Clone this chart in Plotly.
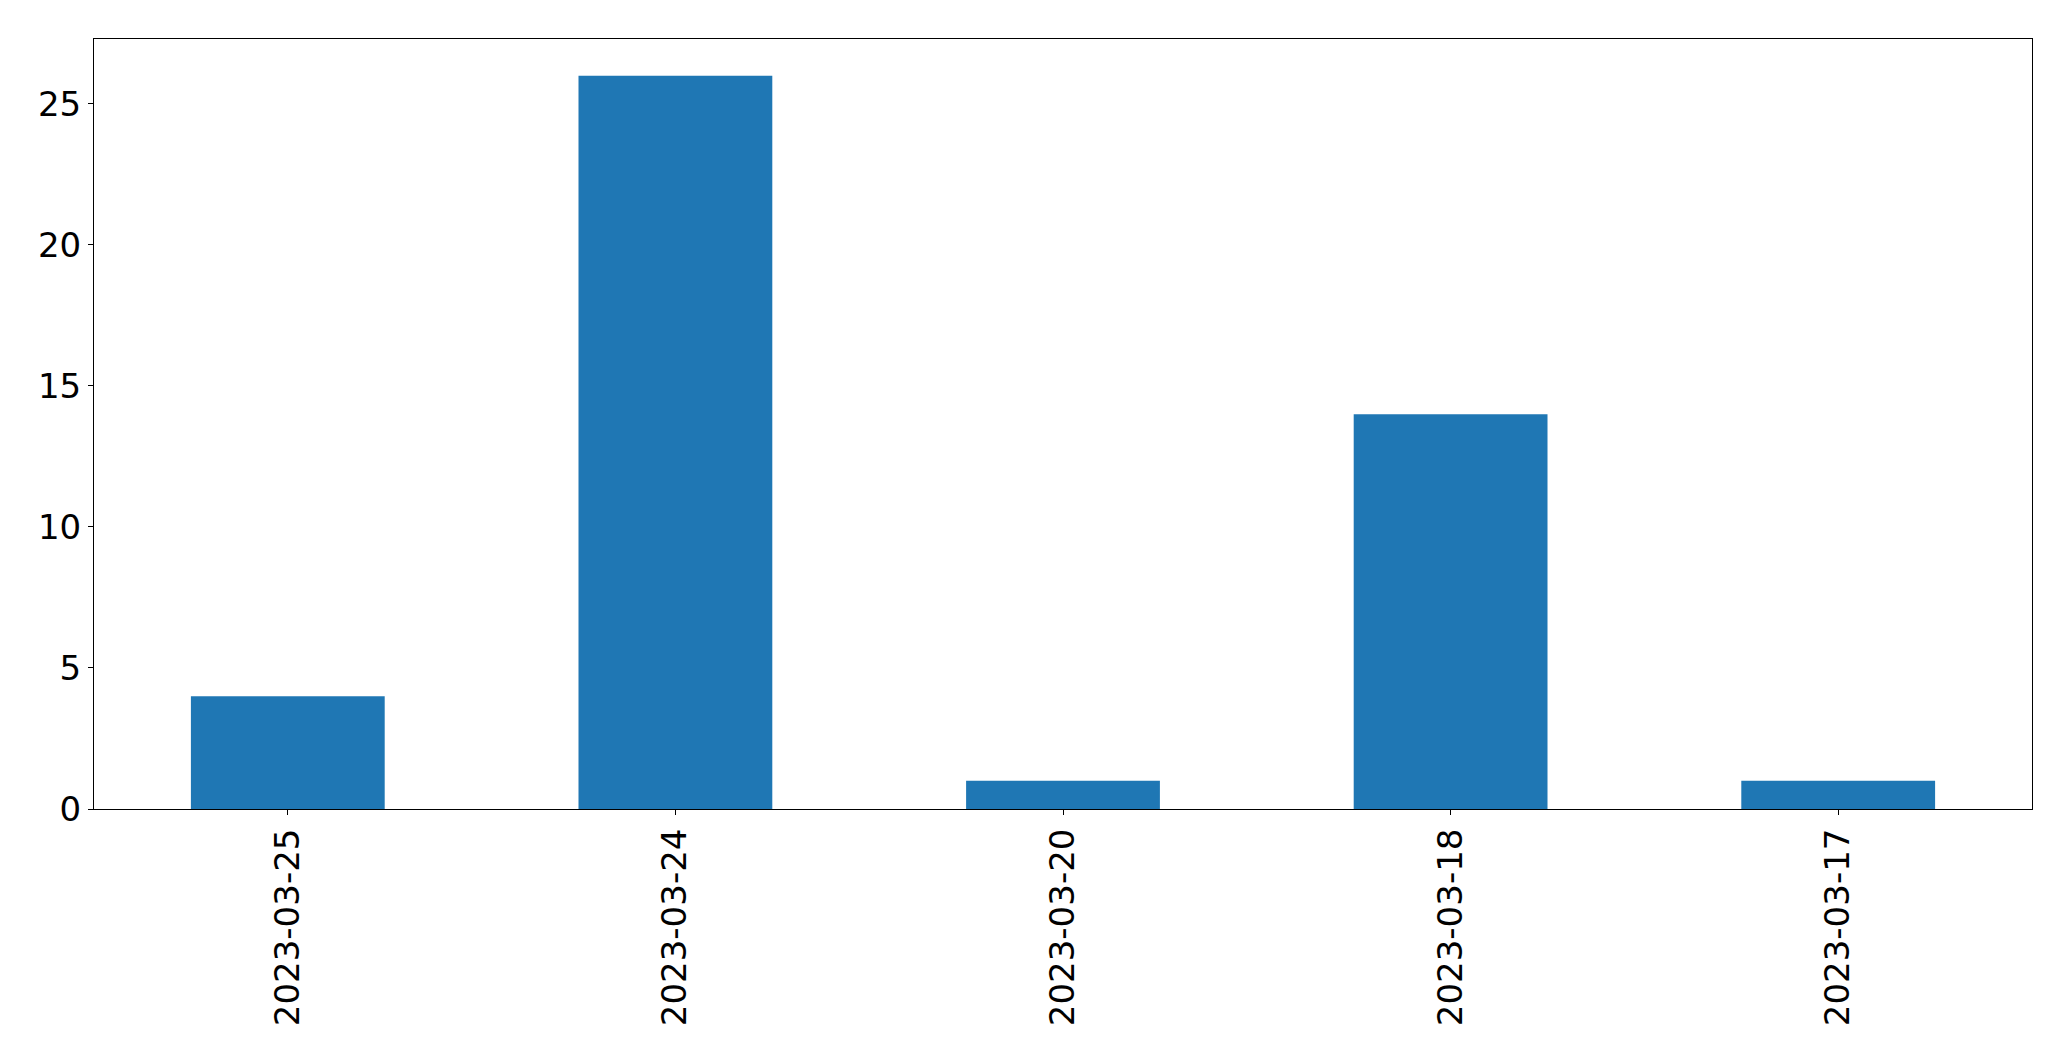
import plotly.graph_objects as go

categories = ["2023-03-25", "2023-03-24", "2023-03-20", "2023-03-18", "2023-03-17"]
values = [4, 26, 1, 14, 1]
y_ticks = [0, 5, 10, 15, 20, 25]

fig = go.Figure(go.Bar(x=categories, y=values, marker=dict(color="#1f77b4", line=dict(width=0))))

axis_common = dict(
    showline=True, linecolor="black", linewidth=1, mirror=True,
    ticks="outside", ticklen=5, tickcolor="black", tickwidth=1,
    showgrid=False, zeroline=False,
    tickfont=dict(family="DejaVu Sans", size=34, color="black"),
)

# page body has an 8px default margin; size figure to fit inside the window
W, H = 2055, 1045
fig.update_layout(
    width=W, height=H,
    margin=dict(l=86, r=W - (2032 - 8), t=31, b=H - (809 - 8), pad=0),
    paper_bgcolor="white", plot_bgcolor="white",
    bargap=0.5, showlegend=False,
    xaxis=dict(type="category", range=[-0.5, 4.5], tickangle=-90, **axis_common),
    yaxis=dict(range=[0, 27.3], tickvals=y_ticks, **axis_common),
)

fig.write_html("out.html", config={"displayModeBar": False})
